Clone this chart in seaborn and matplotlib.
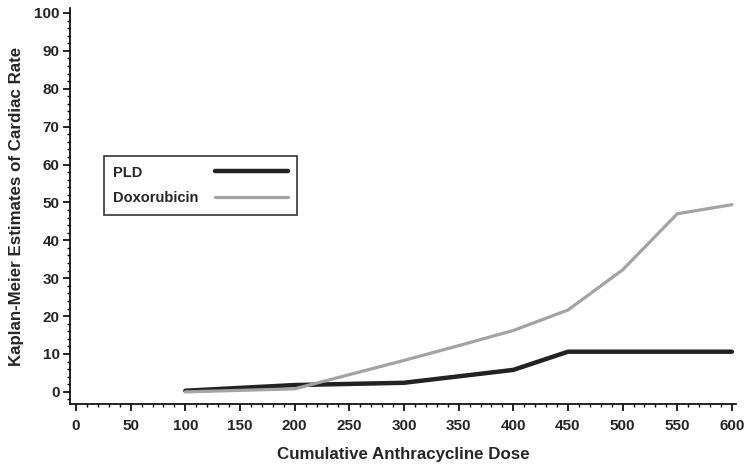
import pandas as pd
import seaborn as sns
import matplotlib.pyplot as plt
from matplotlib.ticker import MultipleLocator

# values
dose_pld = [100, 200, 300, 400, 450, 500, 550, 600]
rate_pld = [0.3, 1.8, 2.4, 5.8, 10.6, 10.6, 10.6, 10.6]
dose_dox = [100, 200, 300, 350, 400, 450, 500, 550, 600]
rate_dox = [0.0, 0.8, 8.3, 12.2, 16.2, 21.6, 32.2, 47.0, 49.4]

df = pd.concat([
    pd.DataFrame({'Dose': dose_pld, 'Rate': rate_pld, 'Group': 'PLD'}),
    pd.DataFrame({'Dose': dose_dox, 'Rate': rate_dox, 'Group': 'Doxorubicin'}),
])

sns.set_style('ticks')
plt.rcParams['font.family'] = ['Liberation Sans', 'DejaVu Sans']

fig = plt.figure(figsize=(7.5, 4.72), dpi=100)
ax = fig.add_axes([70 / 750, 68 / 472, 666 / 750, 396 / 472])

sns.lineplot(data=df, x='Dose', y='Rate', hue='Group',
             palette={'PLD': '#222222', 'Doxorubicin': '#a3a3a3'},
             ax=ax, estimator=None, sort=False)
for line, lw in zip(ax.lines, [3.2, 2.3]):
    line.set_linewidth(lw)
    line.set_solid_capstyle('round')

ax.set_xlim(-5.5, 603.7)
ax.set_ylim(-3.2, 101.3)
ax.xaxis.set_major_locator(MultipleLocator(50))
ax.xaxis.set_minor_locator(MultipleLocator(10))
ax.yaxis.set_major_locator(MultipleLocator(10))
ax.yaxis.set_minor_locator(MultipleLocator(2))
ax.tick_params(which='major', length=5, width=1.2, color='black', labelsize=11)
ax.tick_params(axis='x', which='major', pad=6)
ax.tick_params(axis='y', which='major', pad=2.5)
ax.tick_params(which='minor', length=2.5, width=1, color='black')
for lab in ax.get_xticklabels() + ax.get_yticklabels():
    lab.set_fontweight('bold')

for side in ['top', 'right']:
    ax.spines[side].set_visible(False)
for side in ['left', 'bottom']:
    ax.spines[side].set_color('black')
    ax.spines[side].set_linewidth(1.2)

ax.set_xlabel('Cumulative Anthracycline Dose', fontsize=12.2, fontweight='bold', labelpad=10)
ax.set_ylabel('Kaplan-Meier Estimates of Cardiac Rate', fontsize=12.2, fontweight='bold', labelpad=7)

handles, labels = ax.get_legend_handles_labels()
leg = ax.legend(handles, labels, loc='upper left', bbox_to_anchor=(0.051, 0.626),
                borderaxespad=0, markerfirst=False, frameon=True, fancybox=False,
                handlelength=5.0, handletextpad=1.1, labelspacing=0.8,
                prop={'weight': 'bold', 'size': 10.5}, borderpad=0.65)
leg.get_frame().set_edgecolor('black')
leg.get_frame().set_linewidth(1.2)
for h, lw in zip(leg.get_lines(), [3.2, 2.3]):
    h.set_linewidth(lw)

# left-align the labels and keep the handles lined up on the right
fig.canvas.draw()
r = fig.canvas.get_renderer()
widths = [t.get_window_extent(r).width * 72 / fig.dpi for t in leg.texts]
wmax = max(widths)
column = leg._legend_handle_box.get_children()[0]
column.align = 'left'
for item, w in zip(column.get_children(), widths):
    item.sep = item.sep + (wmax - w)

fig.savefig('out.png', dpi=100)
